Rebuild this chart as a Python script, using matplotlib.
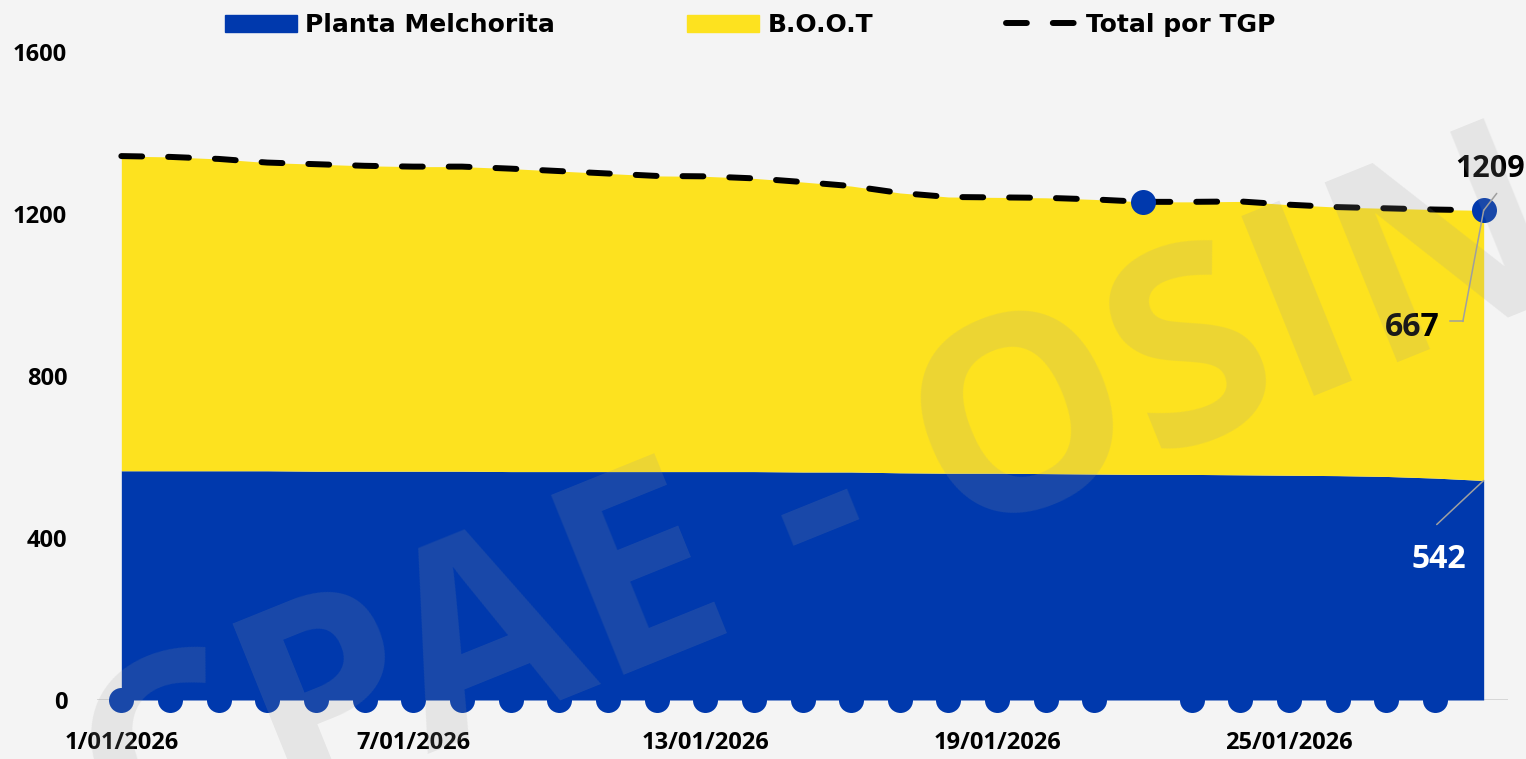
import matplotlib.pyplot as plt
from matplotlib.patches import Patch
from matplotlib.lines import Line2D
import numpy as np

plt.rcParams["lines.scale_dashes"] = False

# data (MMPCD, January 2026)
fechas = [f"{d}/01/2026" for d in range(1, 30)]
melchorita = [566, 566, 566, 566, 565, 565, 565, 565, 564, 564,
              564, 564, 564, 564, 563, 563, 561, 560, 560, 559,
              558, 557, 557, 556, 555, 554, 552, 548, 542]
total_tgp = [1343, 1341, 1336, 1327, 1323, 1319, 1317, 1317, 1312, 1306,
             1300, 1294, 1293, 1288, 1279, 1269, 1252, 1242, 1241, 1240,
             1236, 1230, 1230, 1231, 1223, 1217, 1214, 1211, 1209]
boot = [t - m for t, m in zip(total_tgp, melchorita)]
tick_dias = [0, 6, 12, 18, 24]
y_ticks = [0, 400, 800, 1200, 1600]
dias_destacados = [21, 28]   # puntos marcados sobre el total

AZUL = "#0039ad"
AMARILLO = "#fde21f"
GRIS = "#a0a0a0"
NUM_FONT = ["Open Sans", "DejaVu Sans"]

x = np.arange(len(fechas))

fig = plt.figure(figsize=(15.26, 7.59), dpi=100, facecolor="#f4f4f4")
ax = fig.add_axes([97 / 1526, 59 / 759, 1411 / 1526, 648 / 759])
ax.set_facecolor("#f4f4f4")

ax.fill_between(x, 0, melchorita, color=AZUL, lw=0, zorder=2)
ax.fill_between(x, melchorita, total_tgp, color=AMARILLO, lw=0, zorder=2)
ax.plot(x, total_tgp, color="black", lw=4.3, dashes=(15, 18.7),
        dash_capstyle="round", zorder=4)

# marcadores sobre el eje
base = [i for i in x if i not in dias_destacados]
ax.plot(base, [0] * len(base), "o", color=AZUL, ms=18, mec="none",
        clip_on=False, zorder=5)
ax.plot(dias_destacados, [total_tgp[i] for i in dias_destacados], "o",
        color=AZUL, ms=18, mec="none", clip_on=False, zorder=5)

ax.axhline(0, color="#d2d2d2", lw=1.2, zorder=1)

ax.set_xlim(-0.5, 28.5)
ax.set_ylim(0, 1600)
ax.set_xticks(tick_dias)
ax.set_xticklabels([fechas[i] for i in tick_dias])
ax.set_yticks(y_ticks)
ax.tick_params(axis="both", length=0, labelsize=17)
ax.tick_params(axis="y", pad=21.5)
ax.tick_params(axis="x", pad=22)
for lab in ax.get_xticklabels() + ax.get_yticklabels():
    lab.set_family(NUM_FONT)
    lab.set_fontweight("bold")
for s in ax.spines.values():
    s.set_visible(False)

# etiquetas del ultimo dia
last = len(x) - 1
lk = dict(arrowstyle="-", color=GRIS, lw=1.1, shrinkA=0, shrinkB=0)
ax.annotate("", xy=(last, total_tgp[last]), xytext=(9.4, 12.2),
            textcoords="offset points", arrowprops=lk, zorder=6)
ax.annotate(str(total_tgp[last]), xy=(last, total_tgp[last]), xytext=(4.5, 30),
            textcoords="offset points", ha="center", va="center",
            fontsize=22, fontweight="bold", family=NUM_FONT, annotation_clip=False)
ax.annotate("", xy=(last, total_tgp[last]), xytext=(-15, -80),
            textcoords="offset points", arrowprops=lk, zorder=6)
ax.annotate(str(boot[last]), xy=(last, total_tgp[last]), xytext=(-31.7, -84),
            textcoords="offset points", ha="right", va="center",
            fontsize=23, fontweight="bold", family=NUM_FONT)
ax.annotate("", xy=(last, melchorita[last]), xytext=(-33.8, -31.7),
            textcoords="offset points", arrowprops=lk, zorder=6)
ax.annotate(str(melchorita[last]), xy=(last, melchorita[last]), xytext=(-32, -57),
            textcoords="offset points", ha="center", va="center", color="white",
            fontsize=23, fontweight="bold", family=NUM_FONT)

# tramo horizontal del conector de 667
xp, yp = ax.transData.transform((last, total_tgp[last]))
pt = fig.dpi / 72
fig.add_artist(Line2D([xp - 15 * pt, xp - 24.5 * pt], [yp - 80 * pt, yp - 80 * pt],
                      transform=None, color=GRIS, lw=1.1, zorder=6))

# marca de agua
fig.text(123 / 1526, -118 / 759, "CPAE - OSINERGMIN", rotation=22,
         rotation_mode="anchor", ha="left", va="baseline", fontsize=195,
         fontweight="bold", family=NUM_FONT, color="#999999", alpha=0.17,
         zorder=10)

handles = [Patch(color=AZUL, label="Planta Melchorita"),
           Patch(color=AMARILLO, label="B.O.O.T"),
           Line2D([], [], color="black", lw=4.3, dashes=(15, 18.7),
                  dash_capstyle="round", label="Total por TGP")]
fig.legend(handles=handles, loc="center", bbox_to_anchor=(750 / 1526, 1 - 25 / 759),
           ncol=3, frameon=False, handlelength=2.88, handleheight=0.65,
           handletextpad=0.32, columnspacing=5.3,
           prop=dict(family="DejaVu Sans", weight="bold", size=18))

fig.savefig("out.png", dpi=100, facecolor=fig.get_facecolor())
